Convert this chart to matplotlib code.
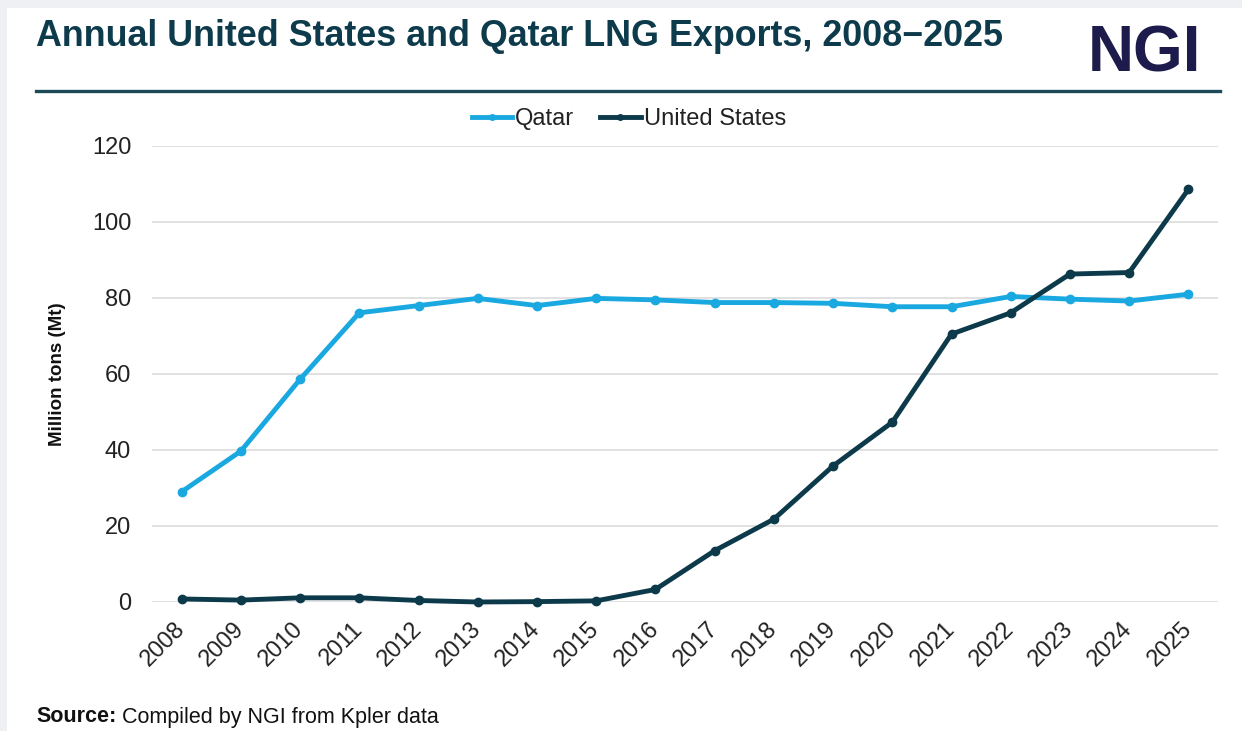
import matplotlib
matplotlib.use("Agg")
import matplotlib.pyplot as plt
from matplotlib.patches import Rectangle
from matplotlib.lines import Line2D

plt.rcParams['font.family'] = ['Liberation Sans', 'DejaVu Sans']

years = [str(y) for y in range(2008, 2026)]
qatar = [29.0, 39.7, 58.6, 76.1, 78.0, 79.9, 78.0, 79.9, 79.5,
         78.8, 78.8, 78.6, 77.7, 77.7, 80.4, 79.7, 79.2, 81.0]
united_states = [0.8, 0.5, 1.1, 1.1, 0.4, 0.0, 0.1, 0.3, 3.3,
                 13.5, 21.8, 35.8, 47.3, 70.5, 76.1, 86.3, 86.7, 108.6]
y_ticks = [0, 20, 40, 60, 80, 100, 120]

W, H = 1242, 731
QATAR_COLOR = '#1aa8e0'
US_COLOR = '#0d3a4a'
TITLE_COLOR = '#0d3b4c'
LOGO_COLOR = '#1c1b4b'

fig = plt.figure(figsize=(W / 100, H / 100), dpi=100, facecolor='#eef0f4')

# white card behind the chart
fig.patches.append(Rectangle((7 / W, 0), 1 - 7 / W, 1 - 8 / H,
                             transform=fig.transFigure, facecolor='white',
                             edgecolor='none', zorder=-10))

def fx(px):
    return px / W

def fy(py):
    return 1 - py / H

ax = fig.add_axes([fx(152), fy(602), fx(1218) - fx(152), fy(146) - fy(602)])
ax.set_facecolor('none')

x = list(range(len(years)))
ax.plot(x, qatar, color=QATAR_COLOR, lw=3.5, marker='o', ms=6,
        clip_on=False, zorder=3, label='Qatar', solid_joinstyle='round')
ax.plot(x, united_states, color=US_COLOR, lw=3.5, marker='o', ms=6,
        clip_on=False, zorder=4, label='United States', solid_joinstyle='round')

ax.set_xlim(-0.5, len(years) - 0.5)
ax.set_ylim(0, 120)
ax.set_yticks(y_ticks)
ax.set_yticklabels([str(v) for v in y_ticks])
ax.set_xticks(x)
ax.set_xticklabels(years, rotation=45, ha='right', va='center',
                   rotation_mode='anchor')
ax.tick_params(axis='y', length=0, pad=15, labelsize=17, labelcolor='#222222')
ax.tick_params(axis='x', length=0, pad=17, labelsize=17, labelcolor='#222222')
ax.grid(axis='y', color='#dcdcdc', lw=1.2)
ax.set_axisbelow(True)
for s in ax.spines.values():
    s.set_visible(False)

fig.text(fx(57), fy(374), 'Million tons (Mt)', rotation=90, ha='center',
         va='center', fontsize=13.5, fontweight='bold', color='#111111')

# legend
handles = [Line2D([], [], color=QATAR_COLOR, lw=3.5, marker='o', ms=4),
           Line2D([], [], color=US_COLOR, lw=3.5, marker='o', ms=4)]
fig.legend(handles, ['Qatar', 'United States'], loc='center',
           bbox_to_anchor=(fx(629), fy(119)), ncol=2, frameon=False,
           fontsize=17, handlelength=1.7, handletextpad=0.15,
           columnspacing=1.1, labelcolor='#222222')

# header
fig.text(fx(36), fy(36), 'Annual United States and Qatar LNG Exports, 2008\u22122025',
         ha='left', va='center', fontsize=25.8, fontweight='bold',
         color=TITLE_COLOR)
fig.text(fx(1145), fy(54), 'NGI', ha='center', va='center', fontsize=46,
         fontweight='bold', color=LOGO_COLOR)
fig.add_artist(Line2D([fx(36), fx(1220)], [fy(91), fy(91)], color='#1d4a58',
                      lw=2.4, transform=fig.transFigure))

# source note
src_bold = fig.text(fx(36), fy(717), 'Source:', ha='left', va='center',
                    fontsize=15.5, fontweight='bold', color='#111111')
renderer = fig.canvas.get_renderer()
bb = src_bold.get_window_extent(renderer=renderer)
fig.text(bb.x1 / W + 6 / W, fy(717), 'Compiled by NGI from Kpler data',
         ha='left', va='center', fontsize=15.5, color='#111111')

fig.savefig('out.png', dpi=100, facecolor=fig.get_facecolor())
